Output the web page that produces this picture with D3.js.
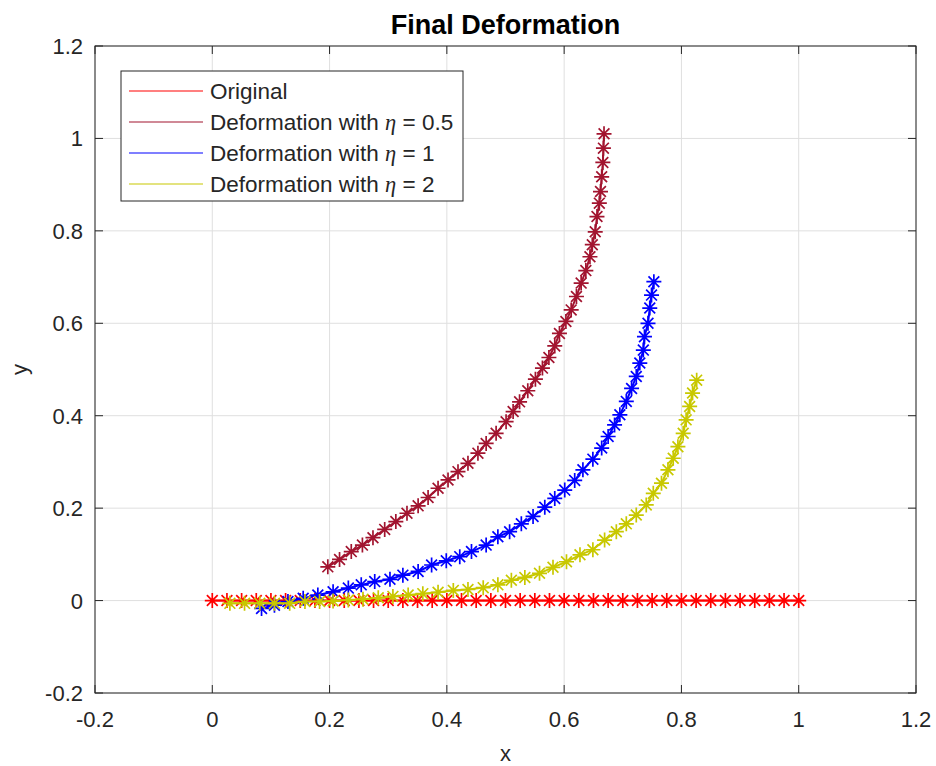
<!DOCTYPE html>
<html>
<head>
<meta charset="utf-8">
<script src="https://cdn.jsdelivr.net/npm/d3@7"></script>
<style>
  html, body { margin: 0; padding: 0; background: #ffffff; }
  svg { display: block; }
  text { font-family: Arial, "Liberation Sans", Helvetica, sans-serif; fill: #262626; }
</style>
</head>
<body>
<svg id="chart" width="936" height="766"></svg>
<script>
// ---------------- data ----------------
const titleText = "Final Deformation";
const xLabel = "x";
const yLabel = "y";
const xTicks = [-0.2, 0, 0.2, 0.4, 0.6, 0.8, 1, 1.2];
const xTickLabels = ["-0.2", "0", "0.2", "0.4", "0.6", "0.8", "1", "1.2"];
const yTicks = [-0.2, 0, 0.2, 0.4, 0.6, 0.8, 1, 1.2];
const yTickLabels = ["-0.2", "0", "0.2", "0.4", "0.6", "0.8", "1", "1.2"];

const seriesNames = ["Original", "Deformation with η = 0.5", "Deformation with η = 1", "Deformation with η = 2"];
const seriesEta = [null, "0.5", "1", "2"];
const seriesColors = ["#ff0000", "#a2142f", "#0000ff", "#c8c800"];

// Original (undeformed) beam
const originalX = [0, 0.025, 0.05, 0.075, 0.1, 0.125, 0.15, 0.175, 0.2, 0.225, 0.25, 0.275, 0.3, 0.325, 0.35, 0.375, 0.4, 0.425, 0.45, 0.475, 0.5, 0.525, 0.55, 0.575, 0.6, 0.625, 0.65, 0.675, 0.7, 0.725, 0.75, 0.775, 0.8, 0.825, 0.85, 0.875, 0.9, 0.925, 0.95, 0.975, 1];
const originalY = [0, 0, 0, 0, 0, 0, 0, 0, 0, 0, 0, 0, 0, 0, 0, 0, 0, 0, 0, 0, 0, 0, 0, 0, 0, 0, 0, 0, 0, 0, 0, 0, 0, 0, 0, 0, 0, 0, 0, 0, 0];

// eta = 0.5
const eta05X = [0.197, 0.217, 0.237, 0.256, 0.274, 0.294, 0.313, 0.332, 0.351, 0.368, 0.385, 0.402, 0.419, 0.436, 0.453, 0.467, 0.484, 0.501, 0.513, 0.524, 0.538, 0.551, 0.563, 0.574, 0.584, 0.592, 0.603, 0.612, 0.621, 0.629, 0.637, 0.644, 0.648, 0.653, 0.656, 0.660, 0.662, 0.664, 0.666, 0.667, 0.668];
const eta05Y = [0.073, 0.089, 0.106, 0.120, 0.136, 0.154, 0.171, 0.189, 0.205, 0.223, 0.243, 0.261, 0.279, 0.297, 0.319, 0.340, 0.362, 0.387, 0.409, 0.430, 0.454, 0.479, 0.503, 0.526, 0.551, 0.578, 0.604, 0.629, 0.658, 0.687, 0.714, 0.744, 0.770, 0.798, 0.831, 0.860, 0.885, 0.917, 0.948, 0.979, 1.010];

// eta = 1
const eta1X = [0.084, 0.106, 0.129, 0.155, 0.180, 0.206, 0.232, 0.254, 0.277, 0.303, 0.325, 0.351, 0.374, 0.399, 0.422, 0.442, 0.467, 0.487, 0.507, 0.527, 0.547, 0.567, 0.584, 0.601, 0.618, 0.632, 0.649, 0.664, 0.675, 0.686, 0.695, 0.706, 0.715, 0.723, 0.729, 0.735, 0.737, 0.743, 0.746, 0.749, 0.753];
const eta1Y = [-0.017, -0.010, -0.002, 0.005, 0.012, 0.019, 0.027, 0.034, 0.041, 0.046, 0.055, 0.063, 0.077, 0.086, 0.095, 0.106, 0.120, 0.138, 0.149, 0.166, 0.182, 0.202, 0.221, 0.239, 0.260, 0.283, 0.306, 0.330, 0.355, 0.380, 0.402, 0.431, 0.459, 0.485, 0.514, 0.542, 0.571, 0.600, 0.633, 0.661, 0.690];

// eta = 2
const eta2X = [0.030, 0.055, 0.081, 0.106, 0.132, 0.158, 0.183, 0.206, 0.232, 0.257, 0.283, 0.308, 0.334, 0.359, 0.385, 0.411, 0.436, 0.462, 0.487, 0.510, 0.533, 0.558, 0.581, 0.604, 0.627, 0.649, 0.669, 0.689, 0.706, 0.723, 0.740, 0.752, 0.766, 0.777, 0.786, 0.794, 0.803, 0.808, 0.814, 0.819, 0.826];
const eta2Y = [-0.006, -0.006, -0.006, -0.006, -0.006, -0.002, -0.002, -0.001, 0.001, 0.003, 0.006, 0.009, 0.012, 0.015, 0.018, 0.022, 0.024, 0.028, 0.034, 0.044, 0.050, 0.059, 0.072, 0.084, 0.099, 0.110, 0.131, 0.149, 0.166, 0.185, 0.207, 0.232, 0.254, 0.283, 0.308, 0.333, 0.362, 0.391, 0.420, 0.449, 0.477];

const seriesX = [originalX, eta05X, eta1X, eta2X];
const seriesY = [originalY, eta05Y, eta1Y, eta2Y];

// ---------------- layout ----------------
const W = 936, H = 766;
const plot = { left: 95, right: 916, top: 46, bottom: 693 };
const axisColor = "#262626";
const gridColor = "#dfdfdf";
const tickFont = 22;

const svg = d3.select("#chart");

const x = d3.scaleLinear().domain([-0.2, 1.2]).range([plot.left, plot.right]);
const y = d3.scaleLinear().domain([-0.2, 1.2]).range([plot.bottom, plot.top]);

// background
svg.append("rect").attr("x", 0).attr("y", 0).attr("width", W).attr("height", H).attr("fill", "#ffffff");

// grid
const grid = svg.append("g");
grid.selectAll("line.gx").data(xTicks).enter().append("line")
  .attr("x1", d => x(d)).attr("x2", d => x(d))
  .attr("y1", plot.top).attr("y2", plot.bottom)
  .attr("stroke", gridColor).attr("stroke-width", 1);
grid.selectAll("line.gy").data(yTicks).enter().append("line")
  .attr("y1", d => y(d)).attr("y2", d => y(d))
  .attr("x1", plot.left).attr("x2", plot.right)
  .attr("stroke", gridColor).attr("stroke-width", 1);

// series
const symbolPath = (r) => {
  const d = r * 0.72;
  return `M${-r},0L${r},0M0,${-r}L0,${r}M${-d},${-d}L${d},${d}M${-d},${d}L${d},${-d}`;
};
const lineGen = d3.line().x(d => x(d[0])).y(d => y(d[1]));

const seriesG = svg.append("g");
seriesX.forEach((xs, i) => {
  const pts = xs.map((v, k) => [v, seriesY[i][k]]);
  const g = seriesG.append("g");
  g.append("path").datum(pts).attr("d", lineGen)
    .attr("fill", "none").attr("stroke", seriesColors[i]).attr("stroke-width", 2);
  g.selectAll("path.m").data(pts).enter().append("path")
    .attr("class", "m")
    .attr("transform", d => `translate(${x(d[0])},${y(d[1])})`)
    .attr("d", symbolPath(7.5))
    .attr("fill", "none").attr("stroke", seriesColors[i]).attr("stroke-width", 1.7);
});

// axes box with inward ticks
const axG = svg.append("g");
axG.append("rect")
  .attr("x", plot.left).attr("y", plot.top)
  .attr("width", plot.right - plot.left).attr("height", plot.bottom - plot.top)
  .attr("fill", "none").attr("stroke", axisColor).attr("stroke-width", 1);
const tl = 8;
xTicks.forEach(t => {
  axG.append("line").attr("x1", x(t)).attr("x2", x(t)).attr("y1", plot.bottom).attr("y2", plot.bottom - tl).attr("stroke", axisColor);
  axG.append("line").attr("x1", x(t)).attr("x2", x(t)).attr("y1", plot.top).attr("y2", plot.top + tl).attr("stroke", axisColor);
});
yTicks.forEach(t => {
  axG.append("line").attr("y1", y(t)).attr("y2", y(t)).attr("x1", plot.left).attr("x2", plot.left + tl).attr("stroke", axisColor);
  axG.append("line").attr("y1", y(t)).attr("y2", y(t)).attr("x1", plot.right).attr("x2", plot.right - tl).attr("stroke", axisColor);
});

// tick labels
axG.selectAll("text.xt").data(xTicks).enter().append("text")
  .attr("x", d => x(d)).attr("y", plot.bottom + 34)
  .attr("text-anchor", "middle").attr("font-size", tickFont)
  .text((d, i) => xTickLabels[i]);
axG.selectAll("text.yt").data(yTicks).enter().append("text")
  .attr("x", plot.left - 12).attr("y", d => y(d) + 8)
  .attr("text-anchor", "end").attr("font-size", tickFont)
  .text((d, i) => yTickLabels[i]);

// axis labels
svg.append("text").attr("x", (plot.left + plot.right) / 2).attr("y", 761)
  .attr("text-anchor", "middle").attr("font-size", tickFont).text(xLabel);
svg.append("text").attr("transform", `translate(27,${(plot.top + plot.bottom) / 2}) rotate(-90)`)
  .attr("text-anchor", "middle").attr("font-size", tickFont).text(yLabel);

// title
svg.append("text").attr("x", (plot.left + plot.right) / 2).attr("y", 34)
  .attr("text-anchor", "middle").attr("font-size", 27).attr("font-weight", "bold")
  .style("fill", "#000000").text(titleText);

// legend
const leg = { x: 121, y: 71, w: 342, h: 130 };
const lg = svg.append("g");
lg.append("rect").attr("x", leg.x).attr("y", leg.y).attr("width", leg.w).attr("height", leg.h)
  .attr("fill", "#ffffff").attr("stroke", axisColor).attr("stroke-width", 1);
const rowY = [91, 122, 153, 184];
seriesNames.forEach((name, i) => {
  lg.append("line").attr("x1", 129).attr("x2", 203).attr("y1", rowY[i]).attr("y2", rowY[i])
    .attr("stroke", seriesColors[i]).attr("stroke-width", 1.2);
  const t = lg.append("text").attr("x", 210).attr("y", rowY[i] + 8).attr("font-size", 22.5);
  if (seriesEta[i] === null) {
    t.text(name);
  } else {
    t.append("tspan").text("Deformation with ");
    t.append("tspan").attr("font-family", "'Liberation Serif', 'Times New Roman', serif")
      .attr("font-style", "italic").text("η");
    t.append("tspan").text(" = " + seriesEta[i]);
  }
});
</script>
</body>
</html>
